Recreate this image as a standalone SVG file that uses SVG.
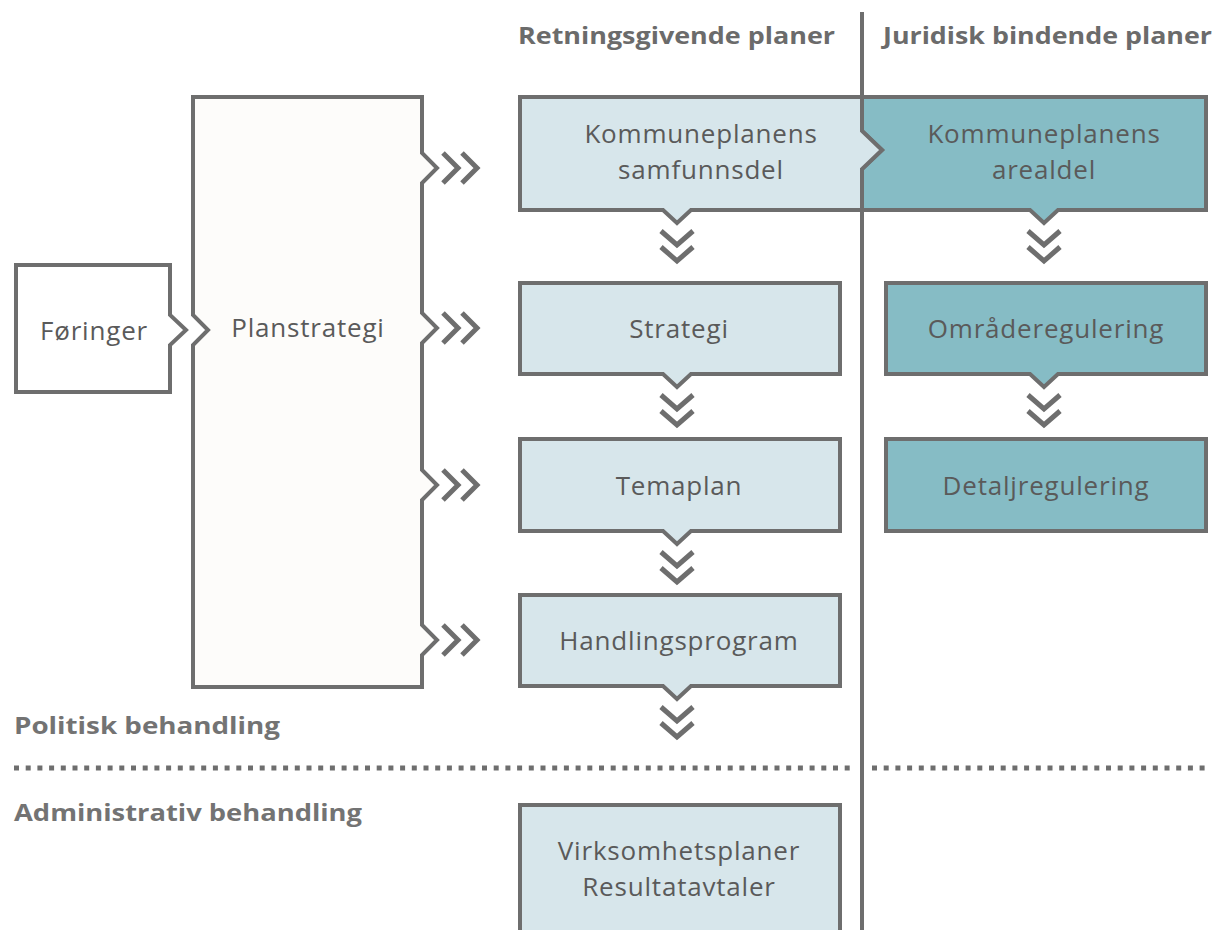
<svg xmlns="http://www.w3.org/2000/svg" width="1222" height="930" viewBox="0 0 1222 930">
<style>
.box{stroke:#6e6e6e;stroke-width:4;stroke-linejoin:miter}
.light{fill:#d7e6eb}
.dark{fill:#86bcc5}
.white{fill:#ffffff}
.plan{fill:#fdfcfa}
.t{font-family:"Open Sans","Liberation Sans",sans-serif;font-size:26px;letter-spacing:0.8px;fill:#5a5a5a;text-anchor:middle}
.h{font-family:"Open Sans","Liberation Sans",sans-serif;font-size:24px;font-weight:bold;fill:#6b6b6b}
.s{font-family:"Open Sans","Liberation Sans",sans-serif;font-size:24px;font-weight:bold;fill:#737373}
.chev{fill:none;stroke:#6e6e6e;stroke-width:5;stroke-linejoin:miter;stroke-linecap:butt}
.dot{stroke:#6e6e6e;stroke-width:5;stroke-dasharray:5 6.7;fill:none}
</style>
<rect width="1222" height="930" fill="#ffffff"/>
<g id="divider"><line x1="862" y1="12" x2="862" y2="930" stroke="#6e6e6e" stroke-width="4"/></g>
<g id="headers">
<text class="h" x="518" y="44" textLength="317" lengthAdjust="spacingAndGlyphs">Retningsgivende planer</text>
<text class="h" x="883" y="44" textLength="329" lengthAdjust="spacingAndGlyphs">Juridisk bindende planer</text>
</g>
<g id="separator">
<line class="dot" x1="14" y1="768" x2="856" y2="768"/>
<line class="dot" x1="872" y1="768" x2="1210" y2="768"/>
<text class="s" x="14" y="734" textLength="266" lengthAdjust="spacingAndGlyphs">Politisk behandling</text>
<text class="s" x="14" y="821" textLength="348" lengthAdjust="spacingAndGlyphs">Administrativ behandling</text>
</g>
<g id="foringer">
<path class="box white" d="M16,265 H170 V315 L186,330 L170,345 V392 H16 Z"/>
<text class="t" x="94" y="340">Føringer</text>
</g>
<g id="planstrategi">
<path class="box plan" d="M193,97 H422 V153 L437,168 L422,183 V313 L437,328 L422,343 V470 L437,485 L422,500 V625 L437,640 L422,655 V687 H193 V345 L208,330 L193,315 Z"/>
<text class="t" x="308" y="337">Planstrategi</text>
</g>
<g id="arealdel">
<path class="box dark" d="M862,97 H1206 V210 H1058 L1044,223 L1030,210 H862 V169 L882,150 L862,131 Z"/>
<text class="t" x="1044" y="143">Kommuneplanens</text>
<text class="t" x="1044" y="179">arealdel</text>
</g>
<g id="samfunnsdel">
<path class="box light" d="M520,97 H862 V131 L882,150 L862,169 V210 H691 L677,223 L663,210 H520 Z"/>
<text class="t" x="701" y="143">Kommuneplanens</text>
<text class="t" x="701" y="179">samfunnsdel</text>
</g>
<g id="strategi">
<path class="box light" d="M520,283 H840 V374 H691 L677,387 L663,374 H520 Z"/>
<text class="t" x="679" y="338">Strategi</text>
</g>
<g id="temaplan">
<path class="box light" d="M520,439 H840 V531 H691 L677,544 L663,531 H520 Z"/>
<text class="t" x="679" y="495">Temaplan</text>
</g>
<g id="handlingsprogram">
<path class="box light" d="M520,595 H840 V686 H691 L677,699 L663,686 H520 Z"/>
<text class="t" x="679" y="650">Handlingsprogram</text>
</g>
<g id="virksomhetsplaner">
<rect class="box light" x="520" y="805" width="320" height="140"/>
<text class="t" x="679" y="860">Virksomhetsplaner</text>
<text class="t" x="679" y="896">Resultatavtaler</text>
</g>
<g id="omraderegulering">
<path class="box dark" d="M886,283 H1206 V374 H1058 L1044,387 L1030,374 H886 Z"/>
<text class="t" x="1046" y="338">Områderegulering</text>
</g>
<g id="detaljregulering">
<rect class="box dark" x="886" y="439" width="320" height="92"/>
<text class="t" x="1046" y="495">Detaljregulering</text>
</g>
<g id="connectors">
<path class="chev" d="M443,153 L458,168 L443,183 M462,153 L477,168 L462,183"/>
<path class="chev" d="M443,313 L458,328 L443,343 M462,313 L477,328 L462,343"/>
<path class="chev" d="M443,470 L458,485 L443,500 M462,470 L477,485 L462,500"/>
<path class="chev" d="M443,625 L458,640 L443,655 M462,625 L477,640 L462,655"/>
<path class="chev" d="M661,231 L677,245 L693,231 M661,247 L677,261 L693,247"/>
<path class="chev" d="M661,395 L677,409 L693,395 M661,411 L677,425 L693,411"/>
<path class="chev" d="M661,552 L677,566 L693,552 M661,568 L677,582 L693,568"/>
<path class="chev" d="M661,707 L677,721 L693,707 M661,723 L677,737 L693,723"/>
<path class="chev" d="M1028,231 L1044,245 L1060,231 M1028,247 L1044,261 L1060,247"/>
<path class="chev" d="M1028,395 L1044,409 L1060,395 M1028,411 L1044,425 L1060,411"/>
</g>
</svg>
